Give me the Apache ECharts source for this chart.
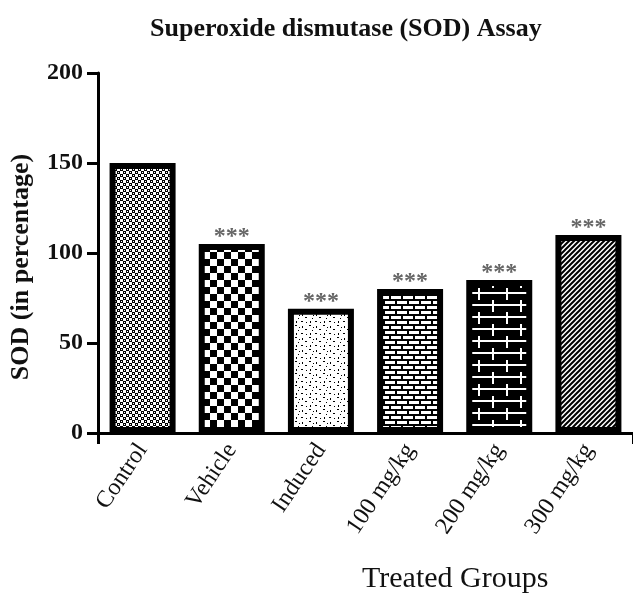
<!DOCTYPE html>
<html>
<head>
<meta charset="utf-8">
<script src="https://cdn.jsdelivr.net/npm/echarts@6/dist/echarts.min.js"></script>
<style>
html,body{margin:0;padding:0;background:#fff;}
#chart{width:633px;height:598px;}
</style>
</head>
<body>
<div id="chart"></div>
<script>
// ---- data ----
var categories = ['Control', 'Vehicle', 'Induced', '100 mg/kg', '200 mg/kg', '300 mg/kg'];
var sodValues = [150, 105, 69, 80, 85, 110];
var significance = ['', '***', '***', '***', '***', '***'];
var yTicks = [0, 50, 100, 150, 200];

// ---- fill patterns ----
function tile(w, h, draw) {
  var c = document.createElement('canvas');
  c.width = w; c.height = h;
  var g = c.getContext('2d');
  g.fillStyle = '#fff'; g.fillRect(0, 0, w, h);
  g.fillStyle = '#000';
  draw(g, w, h);
  return c;
}
var patterns = [
  // fine grid of small dots
  tile(6, 6, function (g) { g.fillRect(0, 0, 3, 3); g.fillRect(3, 3, 3, 3); g.fillStyle = '#fff'; g.fillRect(1, 1, 1, 1); g.fillRect(4, 4, 1, 1); }),
  // coarse checker
  tile(14, 14, function (g) { g.fillRect(0, 0, 7, 7); g.fillRect(7, 7, 7, 7); }),
  // sparse dots
  tile(14, 12, function (g) {
    g.fillRect(1, 1, 2, 1); g.fillRect(8, 2, 1, 2); g.fillRect(11, 5, 2, 1);
    g.fillRect(4, 6, 1, 1); g.fillRect(2, 9, 1, 2); g.fillRect(7, 9, 2, 1);
    g.fillRect(12, 10, 1, 1); g.fillRect(5, 3, 1, 1);
  }),
  // small bricks (white bricks, black mortar)
  tile(12, 10, function (g) {
    g.fillRect(0, 0, 12, 10);
    g.fillStyle = '#fff';
    g.fillRect(1, 1, 10, 3);
    g.fillRect(0, 6, 5, 3); g.fillRect(7, 6, 5, 3);
  }),
  // large bricks (white lines on black)
  tile(28, 24, function (g) {
    g.fillRect(0, 0, 28, 24);
    g.fillStyle = '#fff';
    g.fillRect(0, 4, 28, 2); g.fillRect(0, 16, 28, 2);
    g.fillRect(2, 0, 2, 12); g.fillRect(16, 12, 2, 12);
  }),
  // diagonal hatch
  tile(5, 5, function (g) {
    g.strokeStyle = '#000'; g.lineWidth = 2;
    g.beginPath();
    g.moveTo(-1, 6); g.lineTo(6, -1);
    g.moveTo(-1, 1); g.lineTo(1, -1);
    g.moveTo(4, 6); g.lineTo(6, 4);
    g.stroke();
  })
];

var barData = sodValues.map(function (v, i) {
  return {
    value: v,
    itemStyle: { color: { image: patterns[i], repeat: 'repeat' } },
    label: { show: significance[i] !== '', formatter: significance[i] }
  };
});

var serif = 'Liberation Serif';
var chart = echarts.init(document.getElementById('chart'));
chart.setOption({
  backgroundColor: '#fff',
  animation: false,
  title: [
    {
      text: 'Superoxide dismutase (SOD) Assay',
      left: 145, top: 11,
      textStyle: { fontFamily: serif, fontWeight: 'bold', fontSize: 26, color: '#111' }
    },
    {
      text: 'Treated Groups',
      left: 357, top: 559,
      textStyle: { fontFamily: serif, fontWeight: 'normal', fontSize: 30, color: '#111' }
    }
  ],
  grid: { left: 98, top: 73, width: 540, height: 360, containLabel: false },
  xAxis: {
    type: 'category',
    data: categories,
    axisLine: { show: true, lineStyle: { color: '#000', width: 3 } },
    axisTick: {
      show: true, length: 11, lineStyle: { color: '#000', width: 3 },
      interval: function (index) { return index === 3; }
    },
    axisLabel: {
      rotate: 56, margin: 13, interval: 0,
      fontFamily: serif, fontSize: 24, color: '#111'
    }
  },
  yAxis: {
    type: 'value',
    min: yTicks[0], max: yTicks[yTicks.length - 1], interval: 50,
    name: 'SOD (in percentage)',
    nameLocation: 'middle',
    nameGap: 64,
    nameTextStyle: { fontFamily: serif, fontWeight: 'bold', fontSize: 26, color: '#111', padding: [0, 28, 0, 0] },
    splitLine: { show: false },
    axisLine: { show: true, lineStyle: { color: '#000', width: 3 } },
    axisTick: { show: true, length: 11, lineStyle: { color: '#000', width: 3 } },
    axisLabel: { margin: 15, fontFamily: serif, fontWeight: 'bold', fontSize: 24, color: '#111' }
  },
  series: [{
    type: 'bar',
    data: barData,
    barWidth: 66,
    itemStyle: { borderColor: '#000', borderWidth: 6 },
    label: {
      position: 'top', distance: 0, offset: [0, 5],
      fontFamily: serif, fontWeight: 'bold', fontSize: 24, color: '#666'
    }
  }]
});
</script>
</body>
</html>
